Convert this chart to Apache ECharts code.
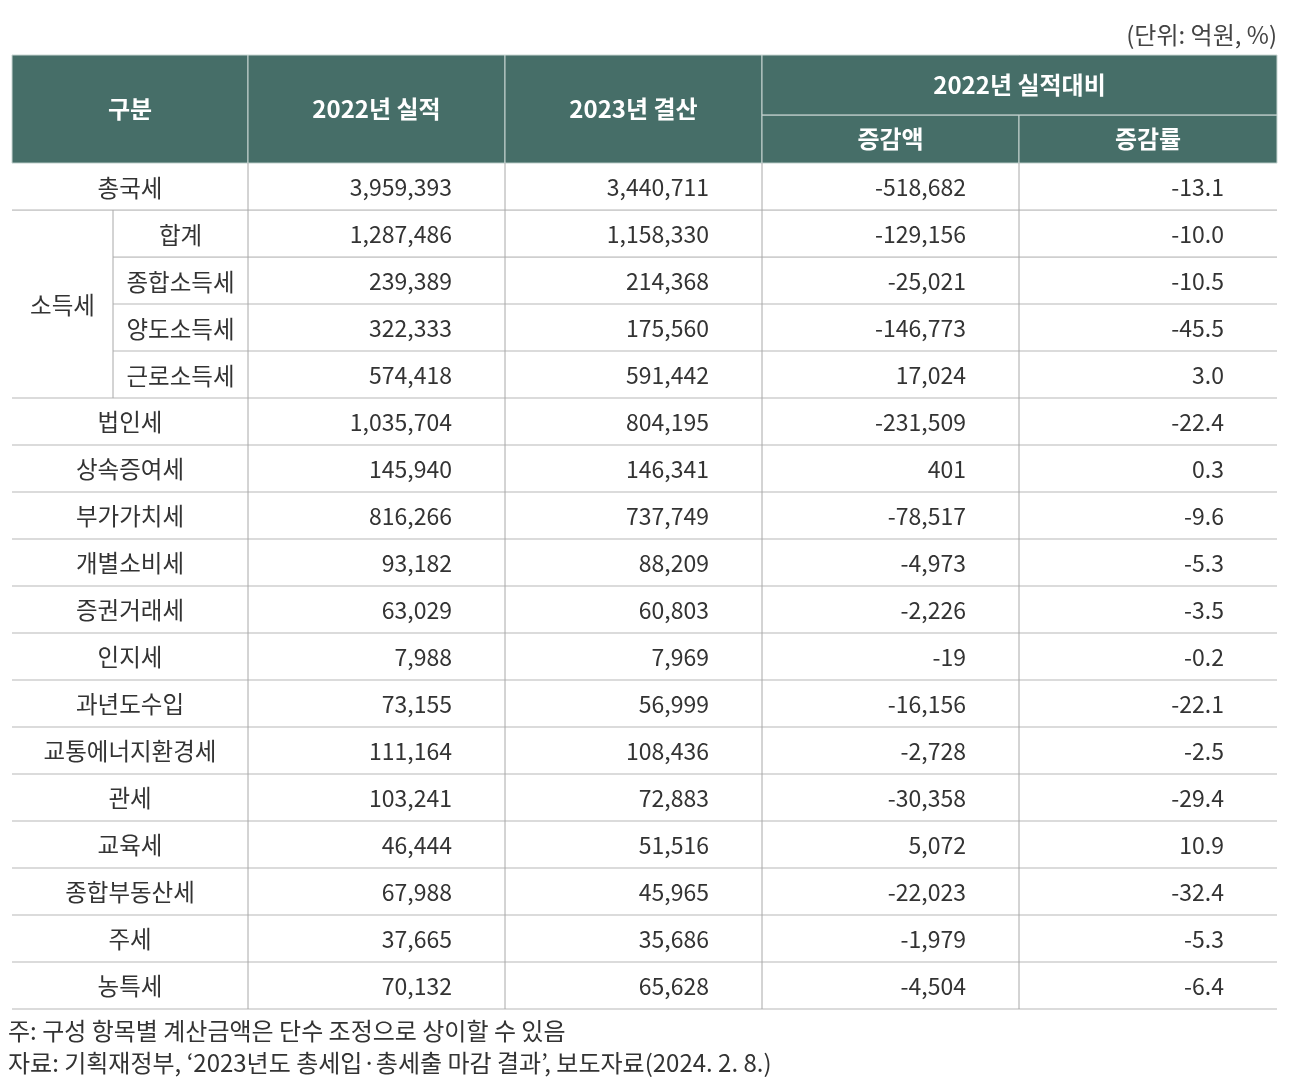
<!DOCTYPE html>
<html>
<head>
<meta charset="utf-8">
<script src="https://cdn.jsdelivr.net/npm/echarts@6/dist/echarts.min.js"></script>
<style>
  html, body { margin: 0; padding: 0; background: #fff; }
  #main { width: 1292px; height: 1090px; }
</style>
</head>
<body>
<div id="main"></div>
<script>
// --- données (억원, %) ---
const rowLabels = ['총국세', '합계', '종합소득세', '양도소득세', '근로소득세', '법인세', '상속증여세', '부가가치세',
  '개별소비세', '증권거래세', '인지세', '과년도수입', '교통에너지환경세', '관세', '교육세', '종합부동산세', '주세', '농특세'];
const actual2022 = [3959393, 1287486, 239389, 322333, 574418, 1035704, 145940, 816266,
  93182, 63029, 7988, 73155, 111164, 103241, 46444, 67988, 37665, 70132];
const settle2023 = [3440711, 1158330, 214368, 175560, 591442, 804195, 146341, 737749,
  88209, 60803, 7969, 56999, 108436, 72883, 51516, 45965, 35686, 65628];
const diffAmount = [-518682, -129156, -25021, -146773, 17024, -231509, 401, -78517,
  -4973, -2226, -19, -16156, -2728, -30358, 5072, -22023, -1979, -4504];
const diffRate = [-13.1, -10.0, -10.5, -45.5, 3.0, -22.4, 0.3, -9.6,
  -5.3, -3.5, -0.2, -22.1, -2.5, -29.4, 10.9, -32.4, -5.3, -6.4];
const groupLabel = '소득세';
const groupRows = [1, 2, 3, 4];
const headerTop = ['구분', '2022년 실적', '2023년 결산', '2022년 실적대비'];
const headerSub = ['증감액', '증감률'];
const unitText = '(단위: 억원, %)';
const notes = ['주: 구성 항목별 계산금액은 단수 조정으로 상이할 수 있음',
  '자료: 기획재정부, ‘2023년도 총세입·총세출 마감 결과’, 보도자료(2024. 2. 8.)'];

// --- mise en page (unités d'axe) ---
const colEdges = [0, 101, 236, 493, 750, 1007, 1265];
const headTop = -2.3, headMid = -1.02;
const HEAD = '#466e68', TXT = '#333', HLINE = '#cfcfcf', VLINE = '#a8a8a8';
const FONT = '"Noto Sans CJK KR", "Noto Sans", sans-serif';

const cells = [];
// en-tête
cells.push({ x0: colEdges[0], x1: colEdges[2], y0: headTop, y1: 0, text: headerTop[0], kind: 'head' });
cells.push({ x0: colEdges[2], x1: colEdges[3], y0: headTop, y1: 0, text: headerTop[1], kind: 'head' });
cells.push({ x0: colEdges[3], x1: colEdges[4], y0: headTop, y1: 0, text: headerTop[2], kind: 'head' });
cells.push({ x0: colEdges[4], x1: colEdges[6], y0: headTop, y1: headMid, text: headerTop[3], kind: 'head' });
cells.push({ x0: colEdges[4], x1: colEdges[5], y0: headMid, y1: 0, text: headerSub[0], kind: 'head' });
cells.push({ x0: colEdges[5], x1: colEdges[6], y0: headMid, y1: 0, text: headerSub[1], kind: 'head' });
// corps
cells.push({ x0: colEdges[0], x1: colEdges[1], y0: groupRows[0], y1: groupRows[groupRows.length - 1] + 1,
  text: groupLabel, kind: 'label', left: false });
rowLabels.forEach((name, i) => {
  const sub = groupRows.includes(i);
  cells.push({ x0: sub ? colEdges[1] : colEdges[0], x1: colEdges[2], y0: i, y1: i + 1,
    text: name, kind: 'label', left: sub });
  const vals = [actual2022[i].toLocaleString('en-US'), settle2023[i].toLocaleString('en-US'),
    diffAmount[i].toLocaleString('en-US'), diffRate[i].toFixed(1)];
  vals.forEach((v, j) => {
    cells.push({ x0: colEdges[j + 2], x1: colEdges[j + 3], y0: i, y1: i + 1, text: v, kind: 'num', left: true });
  });
});

const chart = echarts.init(document.getElementById('main'));

function renderCell(params, api) {
  const c = cells[params.dataIndex];
  const a = api.coord([c.x0, c.y0]);
  const b = api.coord([c.x1, c.y1]);
  const w = b[0] - a[0], h = b[1] - a[1];
  const kids = [];
  if (c.kind === 'head') {
    kids.push({ type: 'rect', shape: { x: a[0], y: a[1], width: w, height: h },
      style: { fill: HEAD, stroke: '#c9d6d3', lineWidth: 1 } });
    kids.push({ type: 'text', style: { x: a[0] + w / 2, y: a[1] + h / 2, text: c.text, fill: '#fff',
      font: 'bold 24px ' + FONT, align: 'center', verticalAlign: 'middle' } });
  } else {
    kids.push({ type: 'line', shape: { x1: a[0], y1: b[1], x2: b[0], y2: b[1] },
      style: { stroke: HLINE, lineWidth: 1.6 } });
    if (c.left) {
      kids.push({ type: 'line', shape: { x1: a[0], y1: a[1], x2: a[0], y2: b[1] },
        style: { stroke: VLINE, lineWidth: 1 } });
    }
    const num = c.kind === 'num';
    kids.push({ type: 'text', style: { x: num ? b[0] - 53 : a[0] + w / 2, y: a[1] + h / 2 + 1,
      text: c.text, fill: TXT, font: (num ? '23px ' : '23.5px ') + FONT,
      align: num ? 'right' : 'center', verticalAlign: 'middle' } });
  }
  return { type: 'group', children: kids };
}

chart.setOption({
  animation: false,
  backgroundColor: '#fff',
  title: [
    { text: unitText, right: 15, top: 23, padding: 0,
      textStyle: { fontSize: 24, fontWeight: 'normal', color: '#444', fontFamily: FONT } },
    { text: notes[0], left: 8, top: 1019, padding: 0,
      textStyle: { fontSize: 24, fontWeight: 'normal', color: '#333', fontFamily: FONT } },
    { text: notes[1], left: 8, top: 1051, padding: 0,
      textStyle: { fontSize: 24, fontWeight: 'normal', color: '#333', fontFamily: FONT } }
  ],
  grid: { left: 12, right: 15, top: 55, bottom: 81 },
  xAxis: { type: 'value', min: colEdges[0], max: colEdges[colEdges.length - 1], show: false },
  yAxis: { type: 'value', min: headTop, max: rowLabels.length, inverse: true, show: false },
  series: [{
    type: 'custom',
    clip: false,
    silent: true,
    renderItem: renderCell,
    encode: { x: [0, 2], y: [1, 3] },
    data: cells.map(c => [c.x0, c.y0, c.x1, c.y1])
  }]
});
</script>
</body>
</html>
